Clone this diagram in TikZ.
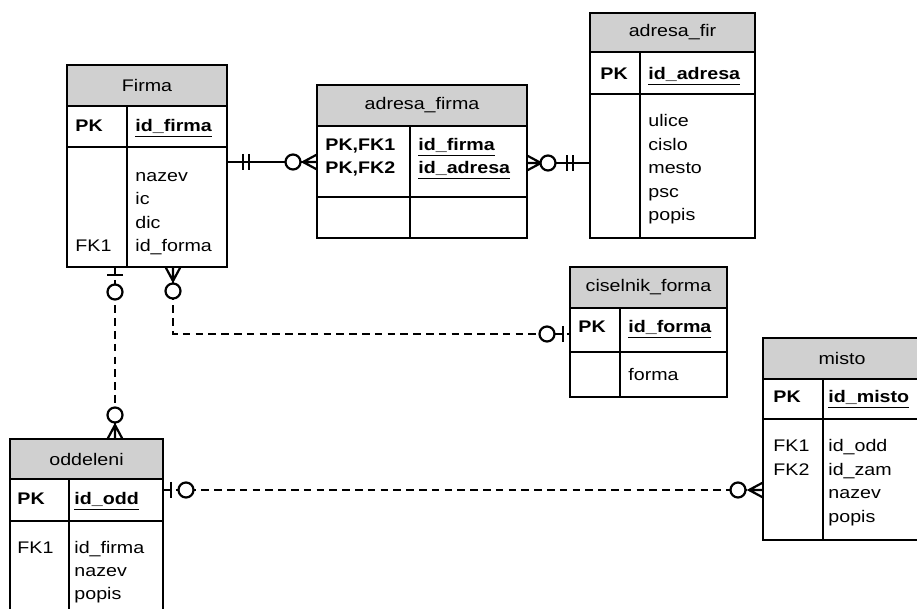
\documentclass[tikz,border=0pt]{standalone}
\usepackage{fontspec}
\setmainfont{Liberation Sans}[FakeStretch=1.17]
\usetikzlibrary{calc}

\begin{document}
\begin{tikzpicture}[x=0.5pt,y=-0.5pt,font=\fontsize{8.4}{11.75}\selectfont,
	tblline/.style={draw=black,line width=0.65pt},
	relline/.style={line width=1.1pt},
	reldash/.style={relline,dash pattern=on 3.8pt off 2.6pt},
	markline/.style={solid,line width=1.1pt},
	ttl/.style={inner sep=0pt},
	keytxt/.style={anchor=base west,inner sep=0pt,align=left,font=\fontsize{8.4}{11.75}\selectfont\bfseries},
	coltxt/.style={anchor=base west,inner sep=0pt,align=left},
	pics/crow/.style={code={\draw[markline] (0,-7.5) -- (14,0) -- (0,7.5) (0,0) -- (14,0);}},
	pics/ring/.style={code={\draw[markline,fill=white] (#1,0) circle[radius=7.5];}},
	pics/bar/.style={code={\draw[markline] (#1,-8) -- (#1,8);}}]
\definecolor{erHead}{HTML}{D0D0D0}
\useasboundingbox (0,0) rectangle (917,609);

% table frames: left/top/right/head/key/bottom/divider
\foreach \xa/\ya/\xb/\yh/\yk/\yb/\xm in {
	67/65/227/106/147/267/127,
	317/85/527/126/197/238/410,
	590/13/755/52/94/238/640,
	570/267/727/308/352/397/620,
	763/338/921/379/419/540/823,
	10/439/163/479/521/615/69
} {
	\path[fill=erHead] (\xa,\ya) rectangle (\xb,\yh);
	\draw[tblline] (\xa,\ya) rectangle (\xb,\yb);
	\draw[tblline] (\xa,\yh) -- (\xb,\yh) (\xa,\yk) -- (\xb,\yk) (\xm,\yh) -- (\xm,\yb);
}

% Firma (multi-line texts sit on their last baseline)
\node[ttl] (firmaT) at (147,85.5) {Firma};
\node[keytxt] (firmaPK) at (75,132) {PK};
\node[keytxt] (firmaKey) at (135,132) {\underline{id\_firma}};
\node[coltxt] (firmaFK) at (75,252) {FK1};
\node[coltxt] (firmaCol) at (135,252) {nazev\\ic\\dic\\id\_forma};

% adresa_firma
\node[ttl] (afT) at (422,105.5) {adresa\_firma};
\node[keytxt] (afPK) at (325,174) {PK,FK1\\PK,FK2};
\node[keytxt] (afKey) at (418,174) {\underline{id\_firma}\\\underline{id\_adresa}};

% adresa_fir
\node[ttl] (adrT) at (672.5,32.5) {adresa\_fir};
\node[keytxt] (adrPK) at (600,80) {PK};
\node[keytxt] (adrKey) at (648,80) {\underline{id\_adresa}};
\node[coltxt] (adrCol) at (648,221) {ulice\\cislo\\mesto\\psc\\popis};

% ciselnik_forma
\node[ttl] (cfT) at (648.5,287.5) {ciselnik\_forma};
\node[keytxt] (cfPK) at (578,333) {PK};
\node[keytxt] (cfKey) at (628,333) {\underline{id\_forma}};
\node[coltxt] (cfCol) at (628,381) {forma};

% misto
\node[ttl] (mistoT) at (842,358.5) {misto};
\node[keytxt] (mistoPK) at (773,403) {PK};
\node[keytxt] (mistoKey) at (828,403) {\underline{id\_misto}};
\node[coltxt] (mistoFK) at (773,475.5) {FK1\\FK2};
\node[coltxt] (mistoCol) at (828,522.5) {id\_odd\\id\_zam\\nazev\\popis};

% oddeleni
\node[ttl] (oddT) at (86.5,459) {oddeleni};
\node[keytxt] (oddPK) at (17,505) {PK};
\node[keytxt] (oddKey) at (74,505) {\underline{id\_odd}};
\node[coltxt] (oddFK) at (17,553) {FK1};
\node[coltxt] (oddCol) at (74,600) {id\_firma\\nazev\\popis};

% connection points
\coordinate (firmaE) at (227,162);
\coordinate (afW) at (317,162);
\coordinate (afE) at (527,163);
\coordinate (adrW) at (590,163);
\coordinate (firmaS1) at (115,267);
\coordinate (oddN) at (115,439);
\coordinate (firmaS2) at (173,267);
\coordinate (cfW) at (570,334);
\coordinate (oddE) at (163,490);
\coordinate (mistoW) at (763,490);

% relations
\draw[relline] (firmaE) -- (afW);
\pic at (firmaE) {bar=16};
\pic at (firmaE) {bar=22};
\pic[rotate=180] at (afW) {crow};
\pic[rotate=180] at (afW) {ring=24};

\draw[relline] (afE) -- (adrW);
\pic at (afE) {crow};
\pic at (afE) {ring=21};
\pic[rotate=180] at (adrW) {bar=17};
\pic[rotate=180] at (adrW) {bar=23};

\draw[reldash] (firmaS1) -- (oddN);
\pic[rotate=-90] at (firmaS1) {bar=8};
\pic[rotate=-90] at (firmaS1) {ring=25};
\pic[rotate=90] at (oddN) {crow};
\pic[rotate=90] at (oddN) {ring=24};

\draw[reldash] (firmaS2) |- (cfW);
\pic[rotate=-90] at (firmaS2) {crow};
\pic[rotate=-90] at (firmaS2) {ring=24};
\pic[rotate=180] at (cfW) {bar=7};
\pic[rotate=180] at (cfW) {ring=23};

\draw[reldash] (oddE) -- (mistoW);
\pic at (oddE) {bar=8};
\pic at (oddE) {ring=23};
\pic[rotate=180] at (mistoW) {crow};
\pic[rotate=180] at (mistoW) {ring=25};
\end{tikzpicture}
\end{document}
